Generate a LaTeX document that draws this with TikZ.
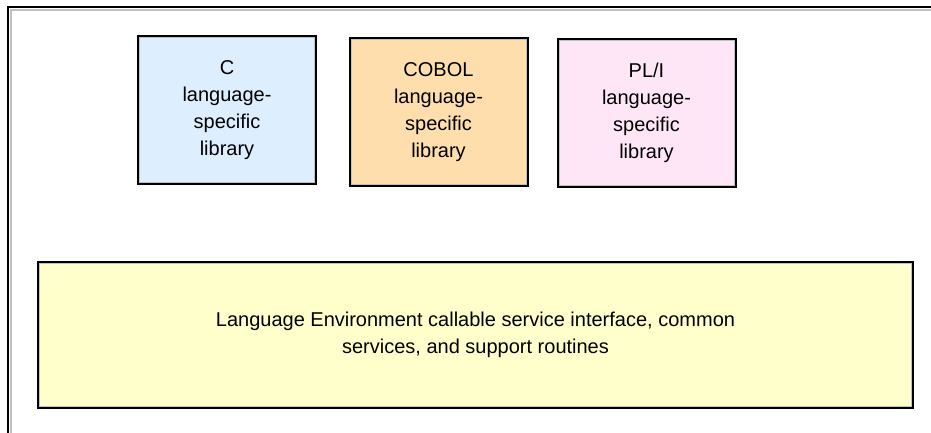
\documentclass[tikz,border=0pt]{standalone}
\usepackage{fontspec}
\setmainfont{Liberation Sans}
\usepackage{xcolor}
\usepackage{tikz}
\usetikzlibrary{positioning}
\definecolor{cblue}{RGB}{221,238,255}
\definecolor{cobolpeach}{RGB}{255,222,173}
\definecolor{plipink}{RGB}{255,230,247}
\definecolor{lepale}{RGB}{255,255,204}
\definecolor{rimgray}{RGB}{192,192,192}

\tikzset{
  rimbox/.style={draw=black, line width=1.5pt, align=center, inner sep=0pt,
    font=\fontsize{15}{20.25}\selectfont,
    path picture={\draw[rimgray, line width=3pt]
      (path picture bounding box.south west) rectangle (path picture bounding box.north east);}},
  libbox/.style={rimbox, minimum width=133.5pt, minimum height=111pt}
}

\begin{document}
\begin{tikzpicture}[x=0.75pt, y=-0.75pt]

\useasboundingbox (0,0) rectangle (931,432);
\clip (0,0) rectangle (931,432);

% outer frame, runs off the page on the right and bottom
\draw[rimgray, line width=1.5pt] (10.5,9.5) rectangle (950,450);
\draw[black, line width=1.3pt] (8,7) rectangle (952,452);

\node[libbox, fill=cblue] (clib) at (227,110) {C\\language-\\specific\\library};
\node[libbox, fill=cobolpeach] (cobollib) at (438.5,112) {COBOL\\language-\\specific\\library};
\node[libbox, fill=plipink] (plilib) at (646.5,112.5) {PL/I\\language-\\specific\\library};

\node[rimbox, fill=lepale, minimum width=656pt, minimum height=109.5pt] (leserv) at (475.5,335)
  {Language Environment callable service interface, common\\services, and support routines};

\end{tikzpicture}
\end{document}
